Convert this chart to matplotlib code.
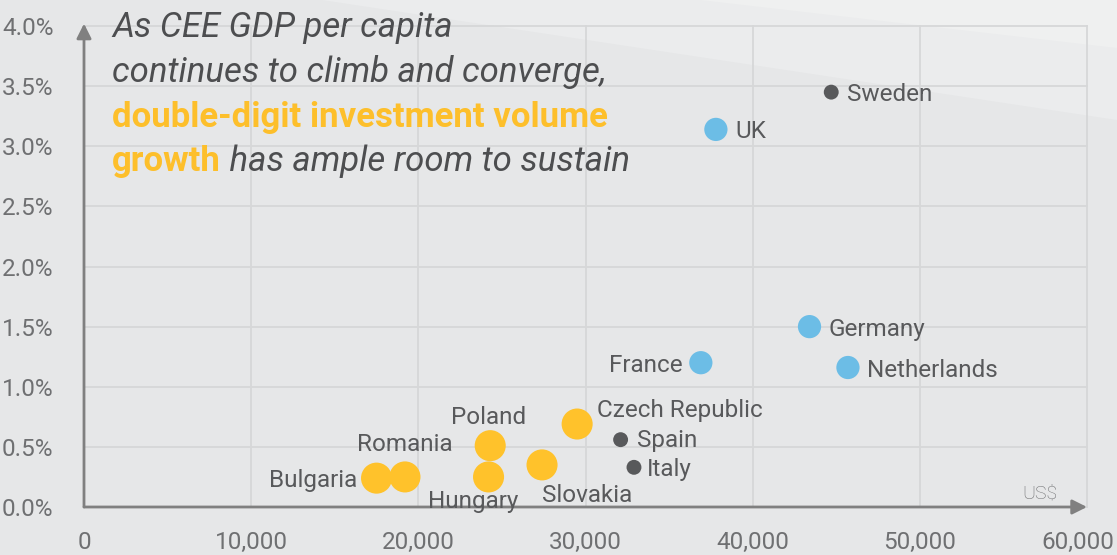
import matplotlib
matplotlib.use("Agg")
import matplotlib.pyplot as plt
from matplotlib.patches import Polygon
from matplotlib.ticker import FuncFormatter
from matplotlib.transforms import ScaledTranslation

# data (GDP per capita in US$, growth in %)
countries = ["Bulgaria", "Romania", "Poland", "Hungary", "Slovakia", "Czech Republic",
             "Spain", "Italy", "France", "Germany", "Netherlands", "UK", "Sweden"]
gdp = [17500, 19200, 24300, 24200, 27400, 29500,
       32100, 32900, 36900, 43400, 45700, 37800, 44700]
growth = [0.24, 0.25, 0.51, 0.25, 0.35, 0.69,
          0.56, 0.33, 1.20, 1.50, 1.16, 3.14, 3.45]
group = ["cee"] * 6 + ["other", "other"] + ["west"] * 4 + ["other"]

xticks = [0, 10000, 20000, 30000, 40000, 50000, 60000]
yticks = [0.0, 0.5, 1.0, 1.5, 2.0, 2.5, 3.0, 3.5, 4.0]

# label placement: (ha, dx px, dy px)
label_pos = {
    "Bulgaria": ("right", -19, 0),
    "Romania": ("center", 0, 35),
    "Poland": ("center", -2, 31),
    "Hungary": ("center", -15, -22),
    "Slovakia": ("center", 45, -28),
    "Czech Republic": ("left", 20, 16),
    "Spain": ("left", 16, 2),
    "Italy": ("left", 13, 0),
    "France": ("right", -18, 0),
    "Germany": ("left", 19, 0),
    "Netherlands": ("left", 19, 0),
    "UK": ("left", 19, 0),
    "Sweden": ("left", 16, 0),
}

style = {
    "cee": dict(color="#ffc22b", s=500),
    "west": dict(color="#6cbde6", s=280),
    "other": dict(color="#58595b", s=115),
}

plt.rcParams["font.family"] = ["Roboto", "DejaVu Sans"]

W, H = 1117, 555
fig = plt.figure(figsize=(W / 100, H / 100), dpi=100)
fig.patch.set_facecolor("#e6e7e8")

# light diagonal bands in the background
def fpx(x, y):
    return (x / W, 1 - y / H)

fig.add_artist(Polygon([fpx(322, 0), fpx(W, 0), fpx(W, 120)], closed=True,
                       transform=fig.transFigure, facecolor="#ebeced",
                       edgecolor="none", zorder=0))
fig.add_artist(Polygon([fpx(700, 0), fpx(W, 0), fpx(W, 48)], closed=True,
                       transform=fig.transFigure, facecolor="#eff0f0",
                       edgecolor="none", zorder=0))

ax = fig.add_axes([84 / W, 48 / H, 1003 / W, 481 / H])
ax.set_facecolor("none")
ax.set_xlim(0, 60000)
ax.set_ylim(0, 4.0)
ax.set_xticks(xticks)
ax.set_yticks(yticks)
ax.xaxis.set_major_formatter(FuncFormatter(lambda v, p: f"{int(v):,}"))
ax.yaxis.set_major_formatter(FuncFormatter(lambda v, p: f"{v:.1f}%"))
ax.tick_params(length=0, labelsize=17.5, labelcolor="#6f7072")
ax.tick_params(axis="y", pad=22)
ax.tick_params(axis="x", pad=17)
ax.grid(True, color="#d6d7d8", linewidth=1.3)
for gl in ax.get_xgridlines() + ax.get_ygridlines():
    gl.set_clip_on(False)
ax.set_axisbelow(True)
for sp in ax.spines.values():
    sp.set_visible(False)

# last x label sits a bit left so it stays inside the picture
last = ax.xaxis.get_major_ticks()[-1].label1
last.set_horizontalalignment("right")
last.set_transform(last.get_transform() + ScaledTranslation(0.27, 0, fig.dpi_scale_trans))

# arrow axes
arrow_kw = dict(arrowstyle="-|>", color="#808080", lw=2, mutation_scale=22,
                shrinkA=0, shrinkB=0)
ax.annotate("", xy=(0, 1.005), xytext=(0, 0), xycoords="axes fraction",
            arrowprops=arrow_kw, annotation_clip=False)
ax.annotate("", xy=(1.0, 0), xytext=(0, 0), xycoords="axes fraction",
            arrowprops=arrow_kw, annotation_clip=False)

for name, x, y, g in zip(countries, gdp, growth, group):
    ax.scatter(x, y, s=style[g]["s"], color=style[g]["color"],
               edgecolors="none", zorder=3, clip_on=False)
    ha, dx, dy = label_pos[name]
    ax.annotate(name, (x, y), xytext=(dx, dy), textcoords="offset pixels",
                ha=ha, va="center_baseline", fontsize=17.5, color="#58595b",
                zorder=4)

ax.annotate("US$", xy=(1, 0), xycoords="axes fraction", xytext=(-30, 13),
            textcoords="offset pixels", ha="right", va="center",
            fontsize=14, color="#6d6e70", fontweight="light")

# headline text
gray = "#4d4e50"
orange = "#fdbf2b"
tsize = 25
fig.text(*fpx(112, 37), "As CEE GDP per capita", fontsize=tsize,
         style="italic", color=gray, va="baseline")
fig.text(*fpx(112, 82), "continues to climb and converge,", fontsize=tsize,
         style="italic", color=gray, va="baseline")
fig.text(*fpx(112, 127), "double-digit investment volume", fontsize=tsize,
         fontweight="bold", color=orange, va="baseline")
t = fig.text(*fpx(112, 171), "growth", fontsize=tsize,
             fontweight="bold", color=orange, va="baseline")
fig.canvas.draw()
bb = t.get_window_extent()
fig.text(bb.x1 / W, 1 - 171 / H, " has ample room to sustain", fontsize=tsize,
         style="italic", color=gray, va="baseline")

fig.savefig("out.png", dpi=100, facecolor=fig.get_facecolor())
